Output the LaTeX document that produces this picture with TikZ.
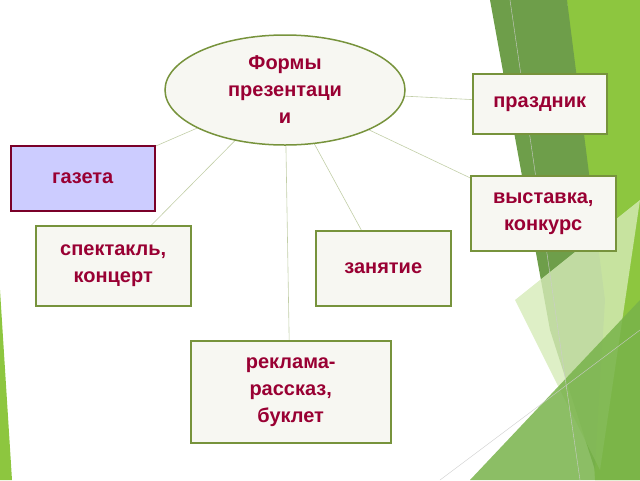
\documentclass[tikz,border=0pt]{standalone}
\usepackage{fontspec}
\setmainfont{Liberation Sans}
\usetikzlibrary{shapes.geometric}
\definecolor{txt}{HTML}{990033}
\definecolor{olive}{HTML}{77933C}
\definecolor{ivory}{HTML}{F7F7F2}
\definecolor{lav}{HTML}{CCCCFF}
\definecolor{dg}{HTML}{6E9E4A}
\definecolor{bg}{HTML}{8DC63F}
\definecolor{pg}{HTML}{D6EBB8}
\definecolor{mg}{HTML}{78B34A}
\tikzset{
 box/.style={draw=olive,line width=1.5pt,fill=ivory,text=txt,font=\bfseries\fontsize{20}{27}\selectfont,align=center,inner sep=0pt,anchor=north west},
 link/.style={draw=olive!45,line width=0.6pt}
}
\begin{document}
\begin{tikzpicture}[x=1pt,y=-1pt]
\useasboundingbox (0,0) rectangle (640,480);
% decorations
\fill[bg] (567,0)--(640,0)--(640,480)--(595,480)--cycle;
\fill[dg] (490,0)--(567,0)--(605,300)--(595,470)--(550,330)--cycle;
\fill[pg,opacity=0.8] (515,300)--(640,200)--(600,470)--cycle;
\fill[mg,opacity=0.85] (470,480)--(640,300)--(640,480)--cycle;
\fill[bg] (0,290)--(12,480)--(0,480)--cycle;
\draw[gray!40,line width=0.4pt] (510,0)--(580,480);
\draw[gray!40,line width=0.4pt] (440,480)--(640,330);
% links
\coordinate (fc) at (285,90);
\draw[link] (fc) -- (82,178);
\draw[link] (fc) -- (112,265);
\draw[link] (fc) -- (290,390);
\draw[link] (fc) -- (382,268);
\draw[link] (fc) -- (542,212);
\draw[link] (fc) -- (539,103);
% nodes
\node[ellipse,draw=olive,line width=1.5pt,fill=ivory,minimum width=240pt,minimum height=110pt,text=txt,font=\bfseries\fontsize{20}{27}\selectfont,align=center] (f) at (fc) {Формы\\презентаци\\и};
\node[box,fill=lav,draw=txt!80!black,minimum width=144pt,minimum height=65pt] (g) at (10,145) {газета};
\node[box,minimum width=155pt,minimum height=80pt] (s) at (35,225) {спектакль,\\концерт};
\node[box,minimum width=135pt,minimum height=75pt] (z) at (315,230) {занятие};
\node[box,minimum width=200pt,minimum height=102pt] (r) at (190,340) {реклама-\\рассказ,\\буклет};
\node[box,minimum width=134pt,minimum height=60pt] (p) at (472,73) {праздник};
\node[box,minimum width=145pt,minimum height=75pt] (v) at (470,175) {выставка,\\конкурс};
\end{tikzpicture}
\end{document}
